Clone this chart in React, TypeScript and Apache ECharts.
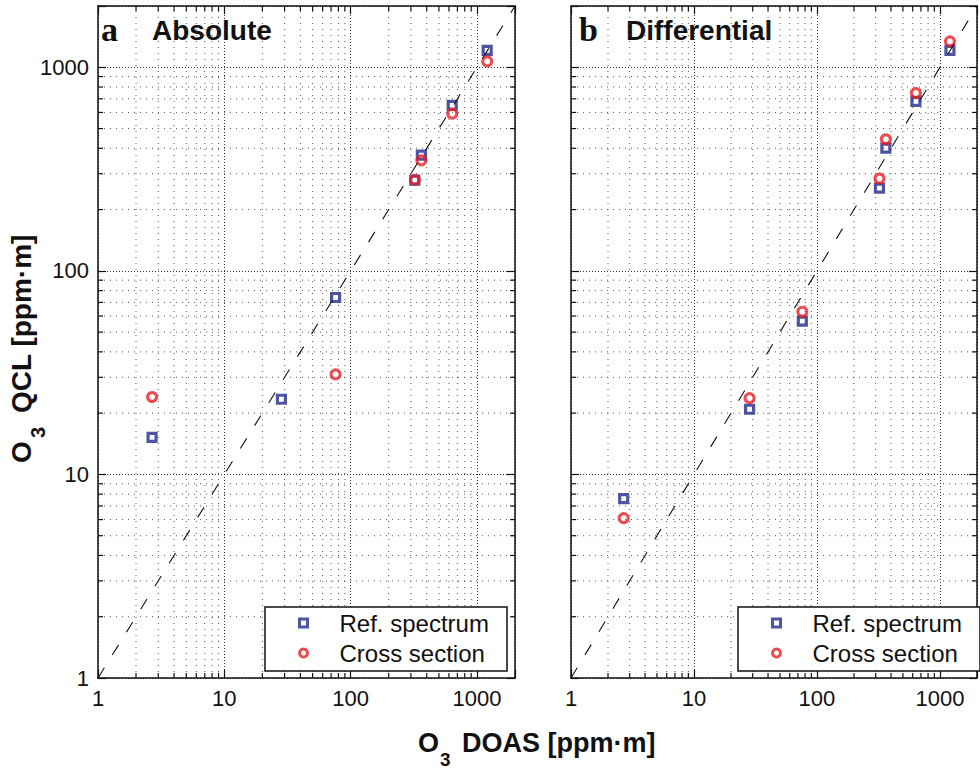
import React, { useEffect, useRef } from "react";
import * as echarts from "echarts";

const SANS = '"Liberation Sans", Arial, Helvetica, sans-serif';
const SERIF = '"Liberation Serif", "Times New Roman", serif';
const BLUE = "#232a8c";
const RED = "#ec1c24";
const INK = "#111111";

// ---- data ----
const DOAS = [2.68, 28.3, 76, 322, 363, 637, 1205];
const REF_ABS: (number | null)[] = [15.2, 23.4, 74, 279, 370, 650, 1210];
const CROSS_ABS: (number | null)[] = [24, null, 31, 280, 349, 592, 1069];
const REF_DIFF: (number | null)[] = [7.6, 20.9, 56.6, 255, 401, 680, 1210];
const CROSS_DIFF: (number | null)[] = [6.1, 23.7, 63, 284, 443, 747, 1340];
const ONE_TO_ONE = [1, 2000];
const MAJOR_TICKS = [1, 10, 100, 1000];
const MINOR_TICKS = [2, 3, 4, 5, 6, 7, 8, 9, 20, 30, 40, 50, 60, 70, 80, 90, 200, 300, 400, 500, 600, 700, 800, 900];
const AXIS_MIN = 1;
const AXIS_MAX = 2000;
const PANEL_LETTERS = ["a", "b"];
const PANEL_TITLES = ["Absolute", "Differential"];
const SERIES_NAMES = ["Ref. spectrum", "Cross section"];
const X_TITLE = ["O", "3", "DOAS [ppm\u00b7m]"];
const Y_TITLE = ["O", "3", "QCL [ppm\u00b7m]"];

// ---- layout ----
const GRIDS = [
  { left: 98, top: 6, width: 417, height: 672 },
  { left: 571, top: 6, width: 417, height: 672 },
];
const LEGEND_BOX = [
  { x: 265, y: 607, width: 242, height: 64 },
  { x: 738, y: 607, width: 242, height: 64 },
];

const pairs = (xs: number[], ys: (number | null)[]) =>
  xs.map((x, i) => (ys[i] == null ? null : [x, ys[i] as number])).filter((p) => p !== null);

const labelFmt = (v: number) => {
  const r = Math.round(v);
  return MAJOR_TICKS.includes(r) ? String(r) : "";
};

function makeAxis(gi: number, position: string, showLabel: boolean, grid: boolean) {
  return {
    type: "log",
    logBase: 10,
    gridIndex: gi,
    position,
    min: AXIS_MIN,
    max: AXIS_MAX,
    axisLine: { show: true, onZero: false, lineStyle: { color: INK, width: 1.5 } },
    axisTick: { show: true, inside: true, length: 8, lineStyle: { color: INK, width: 1.2 } },
    axisLabel: {
      show: showLabel,
      fontSize: 22,
      fontFamily: SANS,
      color: INK,
      margin: 9,
      formatter: labelFmt,
    },
    splitLine: { show: grid, lineStyle: { color: "#333", width: 1, type: [1, 2] } },
    minorTick: { show: false },
  };
}

function minorSeries(gi: number, dir: "x" | "y") {
  const gridStyle = { stroke: "#555", lineWidth: 1, lineDash: [1, 5] };
  const tickStyle = { stroke: INK, lineWidth: 1.2 };
  return {
    type: "custom",
    name: `minor-${dir}-${gi}`,
    xAxisIndex: gi * 2,
    yAxisIndex: gi * 2,
    silent: true,
    z: 1,
    data: MINOR_TICKS.map((v) => (dir === "x" ? [v, AXIS_MIN] : [AXIS_MIN, v])),
    renderItem: (_params: any, api: any) => {
      if (dir === "x") {
        const v = api.value(0);
        const b = api.coord([v, AXIS_MIN]);
        const t = api.coord([v, AXIS_MAX]);
        return {
          type: "group",
          children: [
            { type: "line", shape: { x1: b[0], y1: b[1], x2: t[0], y2: t[1] }, style: gridStyle },
            { type: "line", shape: { x1: b[0], y1: b[1], x2: b[0], y2: b[1] - 5 }, style: tickStyle },
            { type: "line", shape: { x1: t[0], y1: t[1], x2: t[0], y2: t[1] + 5 }, style: tickStyle },
          ],
        };
      }
      const v = api.value(1);
      const l = api.coord([AXIS_MIN, v]);
      const r = api.coord([AXIS_MAX, v]);
      return {
        type: "group",
        children: [
          { type: "line", shape: { x1: l[0], y1: l[1], x2: r[0], y2: r[1] }, style: gridStyle },
          { type: "line", shape: { x1: l[0], y1: l[1], x2: l[0] + 5, y2: l[1] }, style: tickStyle },
          { type: "line", shape: { x1: r[0], y1: r[1], x2: r[0] - 5, y2: r[1] }, style: tickStyle },
        ],
      };
    },
  };
}

function panelSeries(gi: number, refY: (number | null)[], crossY: (number | null)[]) {
  return [
    minorSeries(gi, "x"),
    minorSeries(gi, "y"),
    {
      name: SERIES_NAMES[0],
      type: "scatter",
      xAxisIndex: gi * 2,
      yAxisIndex: gi * 2,
      symbol: "rect",
      symbolSize: 8,
      itemStyle: { color: "rgba(255,255,255,0)", borderColor: BLUE, borderWidth: 3.2 },
      emphasis: { disabled: true },
      z: 3,
      data: pairs(DOAS, refY),
    },
    {
      name: SERIES_NAMES[1],
      type: "scatter",
      xAxisIndex: gi * 2,
      yAxisIndex: gi * 2,
      symbol: "circle",
      symbolSize: 9,
      itemStyle: { color: "rgba(255,255,255,0)", borderColor: RED, borderWidth: 3 },
      emphasis: { disabled: true },
      z: 4,
      data: pairs(DOAS, crossY),
    },
    {
      name: `one-to-one-${gi}`,
      type: "line",
      xAxisIndex: gi * 2,
      yAxisIndex: gi * 2,
      symbol: "none",
      silent: true,
      z: 5,
      lineStyle: { color: INK, width: 1.1, type: [12, 15] },
      data: ONE_TO_ONE.map((v) => [v, v]),
    },
  ];
}

function textEl(text: string, x: number, y: number, font: string, extra: any = {}) {
  return {
    type: "text",
    x,
    y,
    style: {
      text,
      font,
      fill: INK,
      align: "left",
      verticalAlign: "middle",
      textAlign: "left",
      textVerticalAlign: "middle",
      ...extra,
    },
  };
}

export default function App() {
  const ref = useRef<HTMLDivElement>(null);

  useEffect(() => {
    if (!ref.current) return;
    const chart = echarts.init(ref.current, undefined, { renderer: "svg" });

    const graphic: any[] = [];
    const titleX = [
      { letter: 101, title: 152 },
      { letter: 579, title: 626 },
    ];
    for (let gi = 0; gi < 2; gi++) {
      graphic.push(textEl(PANEL_LETTERS[gi], titleX[gi].letter, 29, `bold 34px ${SERIF}`));
      graphic.push(textEl(PANEL_TITLES[gi], titleX[gi].title, 30.5, `bold 28px ${SANS}`));
      const b = LEGEND_BOX[gi];
      graphic.push({
        type: "rect",
        z: 10,
        shape: { x: b.x, y: b.y, width: b.width, height: b.height },
        style: { fill: "#ffffff", stroke: INK, lineWidth: 1.5 },
      });
    }
    // x-axis title
    graphic.push({
      type: "group",
      x: 418,
      y: 743,
      children: [
        textEl(X_TITLE[0], 0, 0, `bold 27px ${SANS}`),
        textEl(X_TITLE[1], 22, 16, `bold 19px ${SANS}`),
        textEl(X_TITLE[2], 44, 0, `bold 27px ${SANS}`),
      ],
    });
    // y-axis title (rotated)
    graphic.push({
      type: "group",
      x: 21,
      y: 463,
      rotation: Math.PI / 2,
      children: [
        textEl(Y_TITLE[0], 0, 0, `bold 28px ${SANS}`),
        textEl(Y_TITLE[1], 25, 17, `bold 20px ${SANS}`),
        textEl(Y_TITLE[2], 50, 0, `bold 28px ${SANS}`),
      ],
    });

    const legends = LEGEND_BOX.map((b) => ({
      left: b.x,
      top: b.y,
      orient: "vertical",
      data: SERIES_NAMES,
      padding: [4, 0, 4, 33],
      itemWidth: 8,
      itemHeight: 8,
      itemGap: 6,
      selectedMode: false,
      z: 20,
      itemStyle: { borderWidth: 3 },
      textStyle: { fontSize: 24, fontFamily: SANS, color: INK, lineHeight: 22, padding: [0, 0, 0, 27] },
    }));

    chart.setOption({
      animation: false,
      backgroundColor: "#ffffff",
      grid: GRIDS.map((g) => ({ ...g, containLabel: false })),
      xAxis: [
        makeAxis(0, "bottom", true, true),
        makeAxis(0, "top", false, false),
        makeAxis(1, "bottom", true, true),
        makeAxis(1, "top", false, false),
      ],
      yAxis: [
        makeAxis(0, "left", true, true),
        makeAxis(0, "right", false, false),
        makeAxis(1, "left", false, true),
        makeAxis(1, "right", false, false),
      ],
      legend: legends,
      series: [...panelSeries(0, REF_ABS, CROSS_ABS), ...panelSeries(1, REF_DIFF, CROSS_DIFF)],
      graphic,
    });

    return () => chart.dispose();
  }, []);

  return (
    <div
      ref={ref}
      style={{ position: "fixed", left: 0, top: 0, width: 980, height: 768, background: "#fff" }}
    />
  );
}
